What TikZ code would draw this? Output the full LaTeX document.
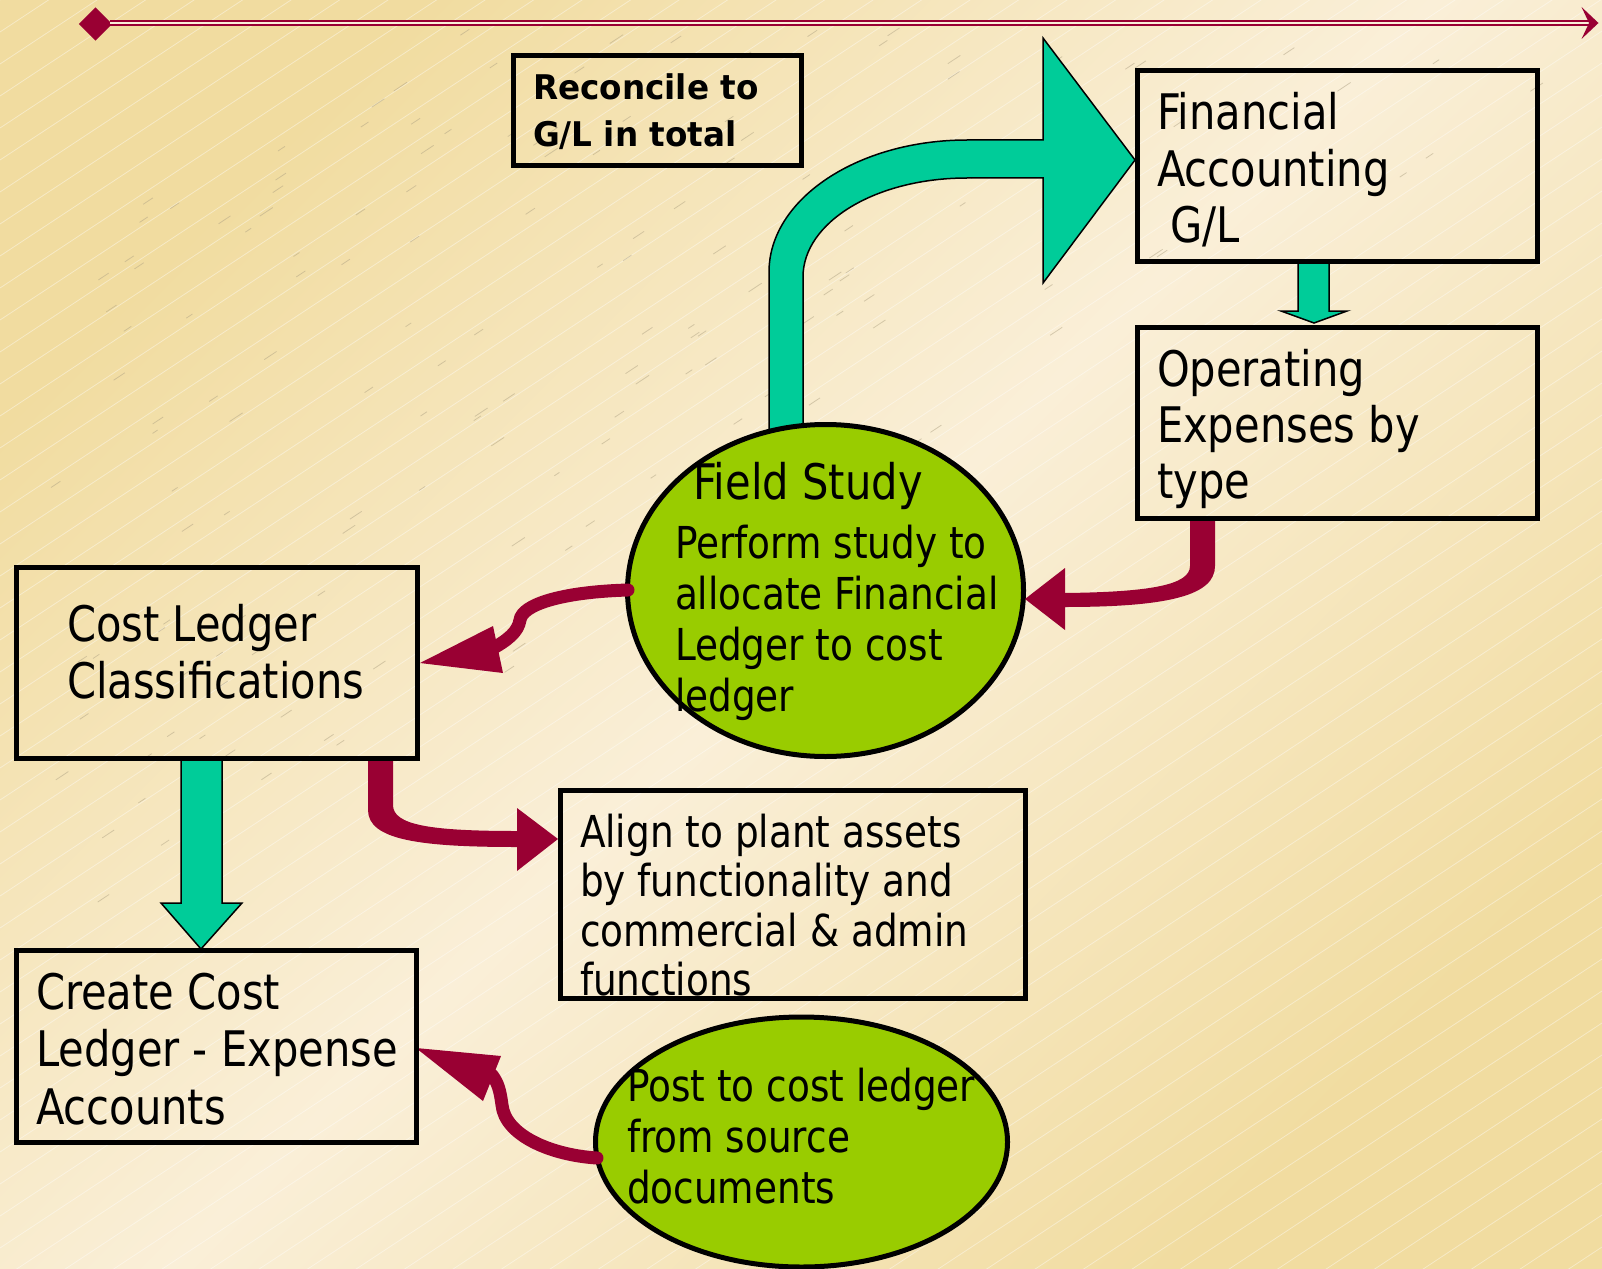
\documentclass[tikz,border=0pt]{standalone}
\usepackage{fontspec}
\setmainfont{DejaVu Sans}[FakeStretch=0.85]
\newfontfamily\headfont{DejaVu Sans}[FakeStretch=0.96]
\usetikzlibrary{shapes.geometric}
% stacked lines with a fixed baseline distance; the baseline of the block is its first line
\newcommand\lns[2]{\vtop{\baselineskip=#1pt\relax\lineskiplimit=-1000pt\relax #2}}
\definecolor{bgdark}{HTML}{F1DCA0}
\definecolor{bglight}{HTML}{FAEFD8}
\definecolor{rulered}{HTML}{990033}
\definecolor{flowgreen}{HTML}{00CC99}
\definecolor{studygreen}{HTML}{99CC00}
\definecolor{dashcol}{HTML}{B0A384}
\begin{document}
\begin{tikzpicture}[x=1pt,y=-1pt,
  box/.style={draw=black, line width=5, inner sep=0, outer sep=0, line join=miter},
  studyell/.style={ellipse, draw=black, line width=5, fill=studygreen, inner sep=0},
  txt/.style={anchor=base west, inner sep=0, outer sep=0, text=black},
  bigtxt/.style={txt, font=\fontsize{49}{57}\selectfont},
  midtxt/.style={txt, font=\fontsize{44}{50}\selectfont},
  greenarrow/.style={fill=flowgreen, draw=black, line width=1.5, line join=miter},
  redfill/.style={fill=rulered},
  redstroke/.style={draw=rulered, line width=13, line cap=round}
]
\useasboundingbox (0,0) rectangle (1602,1268);

% paper background
\shade[left color=bgdark, right color=bgdark, middle color=bglight, shading angle=45]
  (0,0) rectangle (1602,1268);
\begin{scope}
  \clip (0,0) rectangle (1602,1268);
  \foreach \c in {0,32,...,2420}
    \draw[white, opacity=0.4, line width=0.8] (0,\c) -- (1602,\c-1057);
  \pgfmathsetseed{42}
  \foreach \i in {1,...,320}{
    \pgfmathsetmacro\px{40+1520*rnd}
    \pgfmathsetmacro\py{30+900*rnd}
    \pgfmathsetmacro\len{6+10*rnd}
    \pgfmathsetmacro\keep{((\py<960-0.55*\px) && (\py>260-0.5*\px)) ? 1 : 0}
    \ifdim\keep pt>0.5pt
      \draw[dashcol, opacity=0.5, line width=0.8] (\px,\py) -- ++(0.834*\len,-0.552*\len);
    \fi
  }
\end{scope}

% time rule across the top
\fill[rulered] (78.8,24) -- (95.5,7.3) -- (112.2,24) -- (95.5,40.7) -- cycle;
\draw[draw=rulered, double=bglight, double distance=2, line width=1.8] (110,23) -- (1590,23);
\fill[rulered] (1598.5,23) -- (1581.5,7) -- (1589,23) -- (1581.5,39) -- cycle;

% bent arrow from the field study up to the ledger
\draw[greenarrow] (769,440) -- (769,272) .. controls (769,199) and (858,140) .. (967,140)
  -- (1043,140) -- (1043,38) -- (1135,160) -- (1043,283) -- (1043,178) -- (967,178)
  .. controls (876,178) and (803,222) .. (803,277) -- (803,440) -- cycle;

% process ellipses
\node[studyell, minimum width=396, minimum height=332] (fs) at (825.5,590.5) {};
\node[studyell, minimum width=412, minimum height=250] (post) at (801.5,1142) {};

% texts
\node[txt, font=\headfont\bfseries\fontsize{34}{47}\selectfont] (rc-text) at (533,100)
  {\lns{47}{\hbox{Reconcile to}\hbox{G/L in total}}};
\node[bigtxt] (fa-text) at (1157,130) {\lns{56.5}{\hbox{Financial}\hbox{Accounting}\hbox{\ G/L}}};
\node[bigtxt] (oe-text) at (1157,386) {\lns{56}{\hbox{Operating}\hbox{Expenses by}\hbox{type}}};
\node[bigtxt] (fs-title) at (693,499) {Field Study};
\node[midtxt] (fs-text) at (675,558)
  {\lns{51}{\hbox{Perform study to}\hbox{allocate Financial}\hbox{Ledger to cost}\hbox{ledger}}};
\node[bigtxt] (cl-text) at (67,641) {\lns{57}{\hbox{Cost Ledger}\hbox{Classifications}}};
\node[midtxt] (al-text) at (580,847)
  {\lns{49.5}{\hbox{Align to plant assets}\hbox{by functionality and}\hbox{commercial \& admin}\hbox{functions}}};
\node[bigtxt] (cc-text) at (36,1009) {\lns{57.5}{\hbox{Create Cost}\hbox{Ledger - Expense}\hbox{Accounts}}};
\node[midtxt] (post-text) at (627,1101)
  {\lns{51}{\hbox{Post to cost ledger}\hbox{from source}\hbox{documents}}};

% straight green arrows
\draw[greenarrow] (1298,262) -- (1329,262) -- (1329,311) -- (1347,311) -- (1314,323)
  -- (1281,311) -- (1298,311) -- cycle;
\draw[greenarrow] (181,759) -- (222,759) -- (222,903) -- (242,903) -- (201,949)
  -- (161,903) -- (181,903) -- cycle;

% curved red arrows
\fill[redfill] (1190,519) -- (1190,566) .. controls (1190,585) and (1150,592) .. (1065,593)
  -- (1065,568) -- (1025,599) -- (1065,630) -- (1065,607)
  .. controls (1170,607) and (1215,595) .. (1215,566) -- (1215,519) -- cycle;
\draw[redstroke] (628,590) .. controls (560,592) and (522,605) .. (520,620)
  .. controls (518,632) and (508,640) .. (490,650);
\fill[redfill] (420,663) -- (493,626) -- (503,673) -- cycle;
\fill[redfill] (368,759) -- (368,810) .. controls (368,840) and (420,847) .. (517,847)
  -- (517,871) -- (558,839) -- (517,808) -- (517,831)
  .. controls (430,831) and (393,825) .. (393,805) -- (393,759) -- cycle;
\draw[redstroke] (597,1158) .. controls (550,1155) and (505,1135) .. (502,1105)
  .. controls (500,1090) and (498,1083) .. (492,1075);
\fill[redfill] (416,1048) -- (501,1056) -- (483,1101) -- cycle;

% boxes
\node[box, minimum width=288, minimum height=110] (rc) at (657.5,110.5) {};
\node[box, minimum width=400, minimum height=191] (fa) at (1337.5,166) {};
\node[box, minimum width=400, minimum height=191] (oe) at (1337.5,423) {};
\node[box, minimum width=401, minimum height=191] (cl) at (217,663) {};
\node[box, minimum width=465, minimum height=208] (al) at (793,894.5) {};
\node[box, minimum width=400, minimum height=192] (cc) at (216.5,1046.5) {};
\end{tikzpicture}
\end{document}
